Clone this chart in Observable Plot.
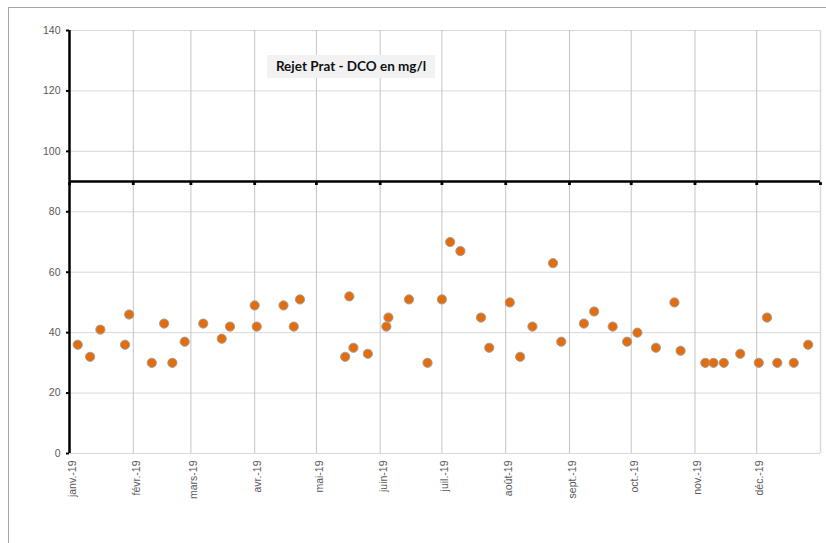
<!DOCTYPE html>
<html>
<head>
<meta charset="utf-8">
<script src="https://cdn.jsdelivr.net/npm/d3@7"></script>
<script src="https://cdn.jsdelivr.net/npm/@observablehq/plot@0.6"></script>
<style>
  html, body { margin: 0; padding: 0; background: #fff; }
  #wrap { position: relative; width: 826px; height: 543px; overflow: hidden; }
  #frame { position: absolute; left: 8px; top: 7px; width: 900px; height: 600px;
           border-left: 1px solid #a6a6a6; border-top: 1px solid #a6a6a6; }
  #chart { position: absolute; left: 0; top: 0; }
  #title { position: absolute; left: 267px; top: 55px; width: 168px; height: 23px;
           background: #f2f2f2; font-family: Lato, "Open Sans", sans-serif; font-weight: 700;
           font-size: 13.5px; color: #111; line-height: 23px; text-align: center; white-space: nowrap; }
</style>
</head>
<body>
<div id="wrap">
  <div id="frame"></div>
  <div id="chart"></div>
  <div id="title"></div>
</div>
<script>
const chartTitle = "Rejet Prat - DCO en mg/l";
const monthLabels = ["janv.-19","févr.-19","mars-19","avr.-19","mai-19","juin-19","juil.-19","août-19","sept.-19","oct.-19","nov.-19","déc.-19"];
const monthStarts = ["2019-01-01","2019-02-01","2019-03-01","2019-04-01","2019-05-01","2019-06-01","2019-07-01","2019-08-01","2019-09-01","2019-10-01","2019-11-01","2019-12-01"];
const xEnd = "2020-01-01";
const yTicks = [0, 20, 40, 60, 80, 100, 120, 140];
const threshold = 90;
const sampleDates = ["2019-01-05","2019-01-11","2019-01-16","2019-01-28","2019-01-30","2019-02-10","2019-02-16","2019-02-20","2019-02-26","2019-03-07","2019-03-16","2019-03-20","2019-04-01","2019-04-02","2019-04-15","2019-04-20","2019-04-23","2019-05-15","2019-05-17","2019-05-19","2019-05-26","2019-06-04","2019-06-05","2019-06-15","2019-06-24","2019-07-01","2019-07-05","2019-07-10","2019-07-20","2019-07-24","2019-08-03","2019-08-08","2019-08-14","2019-08-24","2019-08-28","2019-09-08","2019-09-13","2019-09-22","2019-09-29","2019-10-04","2019-10-13","2019-10-22","2019-10-25","2019-11-06","2019-11-10","2019-11-15","2019-11-23","2019-12-02","2019-12-06","2019-12-11","2019-12-19","2019-12-26"];
const dcoValues = [36,32,41,36,46,30,43,30,37,43,38,42,49,42,49,42,51,32,52,35,33,42,45,51,30,51,70,67,45,35,50,32,42,63,37,43,47,42,37,40,35,50,34,30,30,30,33,30,45,30,30,36];

const parse = s => new Date(s + "T00:00:00Z");
const data = sampleDates.map((d, i) => ({date: parse(d), value: dcoValues[i]}));
const months = monthStarts.map((d, i) => ({date: parse(d), label: monthLabels[i]}));
const start = parse(monthStarts[0]);
const end = parse(xEnd);

document.getElementById("title").textContent = chartTitle;

const chart = Plot.plot({
  width: 826,
  height: 543,
  marginLeft: 69,
  marginRight: 6,
  marginTop: 30,
  marginBottom: 90,
  style: {fontFamily: "'Liberation Sans', Arial, sans-serif", background: "transparent"},
  x: {type: "utc", domain: [start, end]},
  y: {domain: [0, 140]},
  marks: [
    Plot.gridY(yTicks, {stroke: "#d9d9d9", strokeOpacity: 1, strokeWidth: 1}),
    Plot.gridX(months.map(m => m.date), {stroke: "#c4c4c4", strokeOpacity: 1, strokeWidth: 1}),
    Plot.ruleX([end], {stroke: "#d9d9d9", strokeWidth: 1.5}),
    Plot.ruleY([threshold], {stroke: "#000", strokeWidth: 2.5}),
    Plot.dot(months.concat([{date: end}]), {x: "date", y: () => threshold, symbol: "square", r: 1.6, fill: "#000", dy: 2}),
    Plot.ruleX([start], {stroke: "#000", strokeWidth: 2.5}),
    Plot.axisY(yTicks, {tickSize: 3, stroke: "#000", strokeWidth: 2, tickPadding: 6, fill: "#595959", fontSize: 10.5, label: null}),
    Plot.axisX(months.map(m => m.date), {
      tickFormat: d => monthLabels[d.getUTCMonth()],
      tickRotate: -90, tickSize: 0, tickPadding: 7, dx: 3, fill: "#595959", fontSize: 10.5, label: null
    }),
    Plot.dot(data, {x: "date", y: "value", r: 4.6, fill: "#e46c0a", stroke: "#a0a0a0", strokeWidth: 1})
  ]
});
document.getElementById("chart").appendChild(chart);
</script>
</body>
</html>
